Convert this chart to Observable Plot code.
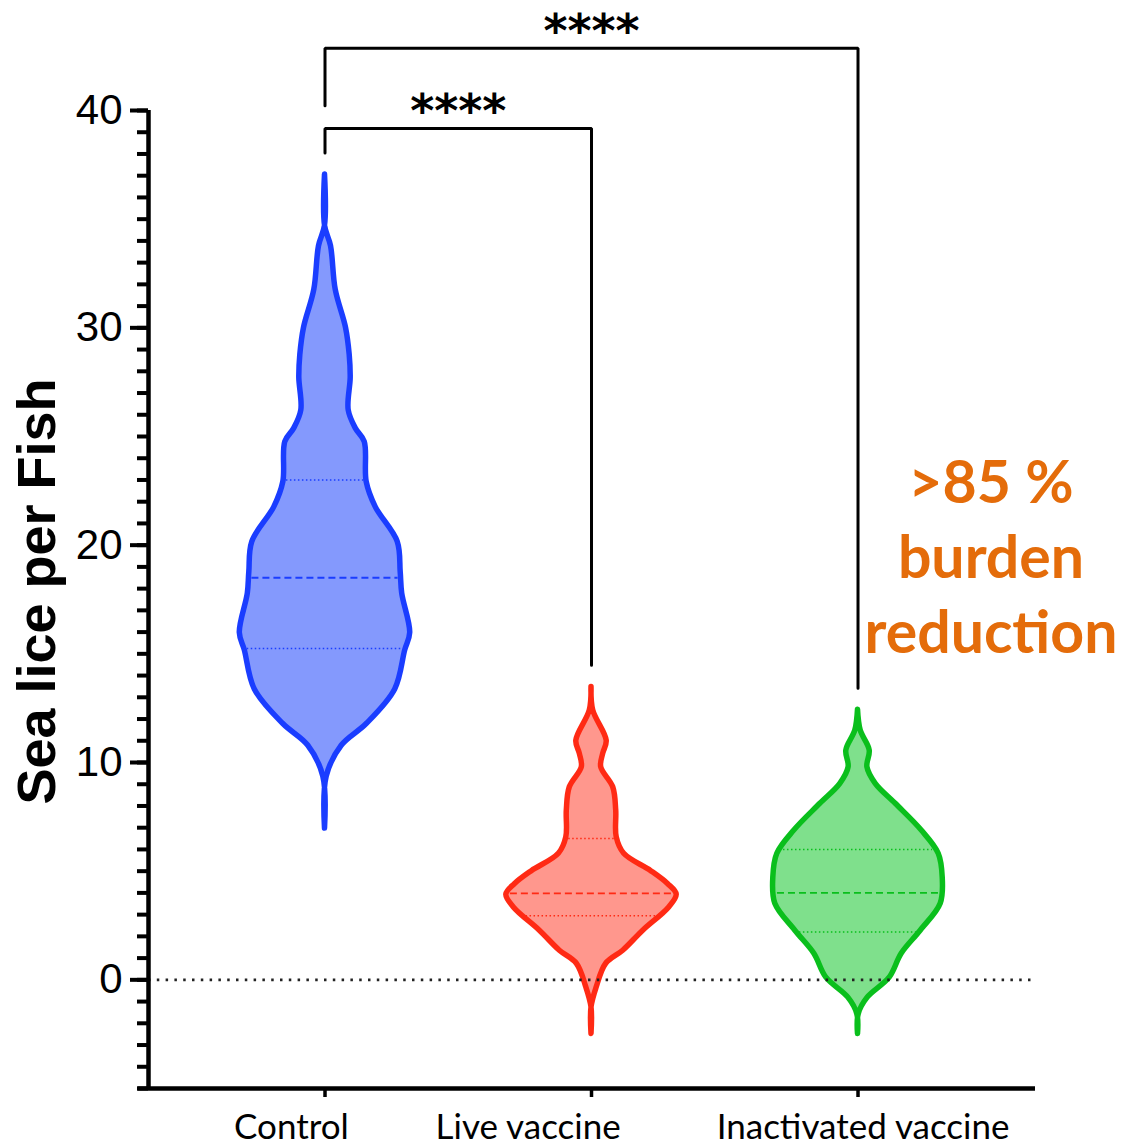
<!DOCTYPE html>
<html><head><meta charset="utf-8">
<script src="https://cdn.jsdelivr.net/npm/d3@7"></script>
<script src="https://cdn.jsdelivr.net/npm/@observablehq/plot@0.6"></script>
<style>body{margin:0;background:#fff}</style>
</head><body><div id="chart"></div>
<script>
// ---- data ----
const groups = ["Control", "Live vaccine", "Inactivated vaccine"];
const groupPos = [0, 1, 2];
const labelPos = [-0.126, 0.762, 2.019];
const fills = ["#8499fd", "#ff978d", "#7fe08c"];
const strokes = ["#1a3dff", "#ff2a14", "#0abf1c"];

// violin outlines: value (sea lice) and density half-width
const controlY = [37.05, 34.7, 33.76, 31.75, 30.0, 28.75, 27.7, 26.2, 25.35, 24.75, 22.9, 21.75, 20.15, 18.75, 17.77, 15.96, 15.16, 13.36, 11.77, 10.77, 9.35, 6.96];
const controlD = [0, 0, 6, 10.7, 21, 24.7, 25.7, 23.7, 31, 39.7, 41.7, 50.7, 72.7, 75.7, 77.2, 85.2, 80.2, 70.2, 41.7, 16.7, 1.7, 0];
const liveY = [13.47, 12.4, 11.0, 10.4, 9.78, 8.86, 7.79, 6.56, 5.8, 5.0, 4.4, 3.92, 3.33, 2.26, 1.34, 0.74, -0.35, -1.27, -2.49];
const liveD = [0, 1.7, 15.2, 11.7, 9.7, 21.7, 24.7, 25.2, 32.7, 59.7, 76.7, 85.2, 77.7, 51.7, 31.7, 14.7, 5.2, 0, 0];
const inactY = [12.43, 11.47, 10.55, 9.78, 9.02, 8.1, 6.87, 5.8, 4.7, 3.5, 2.26, 1.2, 0.1, -0.82, -1.58, -2.49];
const inactD = [0, 2.7, 11.7, 9.4, 17.7, 37.7, 63.7, 80.7, 84.7, 82.7, 62.7, 43.7, 31.7, 9.7, 0.7, 0];

// quartiles [Q1, median, Q3]
const controlQ = [15.25, 18.5, 23.0];
const liveQ = [2.95, 3.98, 6.5];
const inactQ = [2.2, 4.0, 6.0];

// significance brackets
const cmpFrom = [0, 0];
const cmpTo = [1, 2];
const cmpBar = [39.17, 42.86];
const cmpFromEnd = [38.04, 40.22];
const cmpToEnd = [14.48, 13.42];
const cmpLabel = ["****", "****"];
const cmpLabelY = [40.39, 44.07];

const yMajor = [0, 10, 20, 30, 40];
const yMinor = d3.range(-5, 41);
const note = ">85 %\nburden\nreduction";
const yTitle = "Sea lice per Fish";

// ---- build ----
const densityScale = 1 / 266.5;
const profiles = [[controlY, controlD], [liveY, liveD], [inactY, inactD]];
const quartiles = [controlQ, liveQ, inactQ];

const violinRows = [];
profiles.forEach(([ys, ds], g) => {
  ys.forEach((y, i) => violinRows.push({
    group: groups[g], g, y,
    x1: groupPos[g] - ds[i] * densityScale,
    x2: groupPos[g] + ds[i] * densityScale
  }));
});

function interp(ys, ds, v) {
  for (let i = 0; i < ys.length - 1; i++) {
    const a = ys[i], b = ys[i + 1];
    if ((v <= a && v >= b) || (v >= a && v <= b)) {
      const t = (v - a) / (b - a);
      return ds[i] + t * (ds[i + 1] - ds[i]);
    }
  }
  return 0;
}
const qRows = [];
quartiles.forEach((qs, g) => {
  qs.forEach((q, k) => {
    const hw = Math.max(0, interp(profiles[g][0], profiles[g][1], q) - 3) * densityScale;
    qRows.push({g, y: q, kind: k === 1 ? "median" : "quart", x1: groupPos[g] - hw, x2: groupPos[g] + hw});
  });
});

const bracketRows = [];
cmpFrom.forEach((f, i) => {
  const t = cmpTo[i];
  bracketRows.push({id: i, x: groupPos[f], y: cmpFromEnd[i]});
  bracketRows.push({id: i, x: groupPos[f], y: cmpBar[i]});
  bracketRows.push({id: i, x: groupPos[t], y: cmpBar[i]});
  bracketRows.push({id: i, x: groupPos[t], y: cmpToEnd[i]});
});
const starRows = cmpFrom.map((f, i) => ({x: (groupPos[f] + groupPos[cmpTo[i]]) / 2, y: cmpLabelY[i], label: cmpLabel[i]}));

const xMin = -0.6623, xMax = 2.666;

const chart = Plot.plot({
  width: 1124,
  height: 1145,
  marginLeft: 148,
  marginRight: 89,
  marginTop: 110,
  marginBottom: 57,
  style: {fontFamily: "Liberation Sans, Arial, sans-serif", color: "#000", background: "#fff"},
  x: {domain: [xMin, xMax], axis: null},
  y: {domain: [-5, 40], axis: null},
  marks: [
    // violins
    ...groupPos.map(g => Plot.areaX(violinRows.filter(d => d.g === g), {
      y: "y", x1: "x1", x2: "x2", curve: "catmull-rom",
      fill: fills[g], stroke: strokes[g], strokeWidth: 5.5, strokeLinejoin: "round"
    })),
    // quartile lines
    Plot.ruleY(qRows.filter(d => d.kind === "quart"), {
      y: "y", x1: "x1", x2: "x2", stroke: d => strokes[d.g], strokeWidth: 1.5, strokeDasharray: "1.5,2.5"
    }),
    Plot.ruleY(qRows.filter(d => d.kind === "median"), {
      y: "y", x1: "x1", x2: "x2", stroke: d => strokes[d.g], strokeWidth: 1.8, strokeDasharray: "7,4"
    }),
    // zero reference line
    Plot.ruleY([0], {x1: xMin, x2: xMax, stroke: "#222", strokeWidth: 2.6, strokeDasharray: "2.5,6.3"}),
    // axes
    Plot.axisY({ticks: yMinor, tickSize: 11, text: null, strokeWidth: 4, label: null}),
    Plot.axisY({ticks: yMajor, tickSize: 18, tickPadding: 8, strokeWidth: 4, fontSize: 42, label: null}),
    Plot.ruleX([xMin], {y1: -5, y2: 40, strokeWidth: 4.5}),
    Plot.ruleY([-5], {x1: xMin - 0.04, x2: xMax, strokeWidth: 4.5}),
    Plot.axisX({ticks: groupPos, tickSize: 9, text: null, strokeWidth: 3.5, label: null}),
    Plot.text(groups, {x: (d, i) => labelPos[i], y: -5, text: d => d, dy: 39, fontSize: 35,
      fontFamily: "Lato, Open Sans, sans-serif", textAnchor: "middle", lineAnchor: "middle"}),
    // y title
    Plot.text([yTitle], {frameAnchor: "left", dx: -111, dy: -8, rotate: -90, fontSize: 54,
      fontWeight: "bold", textAnchor: "middle", lineAnchor: "middle"}),
    // brackets
    Plot.line(bracketRows, {x: "x", y: "y", z: "id", stroke: "#000", strokeWidth: 3, strokeLinejoin: "miter"}),
    Plot.text(starRows, {x: "x", y: "y", text: "label", fontSize: 46, fontWeight: "bold",
      fontFamily: "DejaVu Sans, sans-serif", textAnchor: "middle", lineAnchor: "middle", dy: 10}),
    // annotation
    Plot.text([note], {x: 2.499, y: 19.3, text: d => d, dy: -6, fontSize: 59, fontWeight: "bold",
      fontFamily: "Lato, Open Sans, sans-serif", fill: "#E46C0A", lineHeight: 1.27,
      textAnchor: "middle", lineAnchor: "middle"})
  ]
});
document.getElementById("chart").appendChild(chart);
</script>
</body></html>
